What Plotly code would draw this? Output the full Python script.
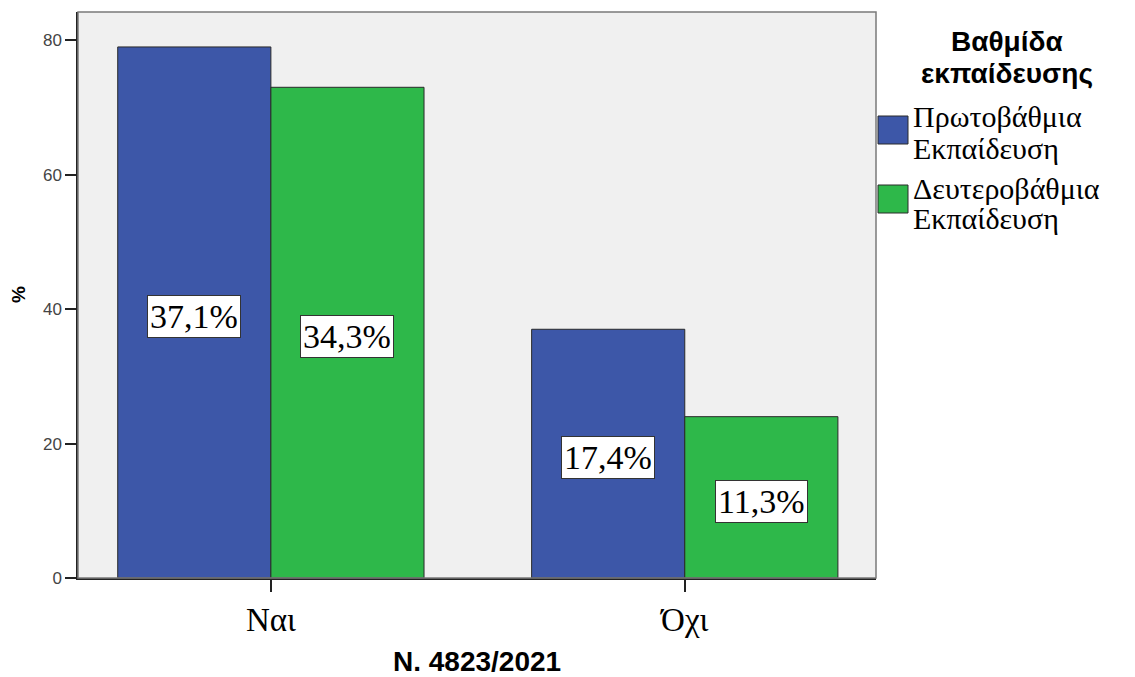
import plotly.graph_objects as go

# Data: counts per group; labels show each count's share of the total
categories = ["Ναι", "Όχι"]
series_names = ["Πρωτοβάθμια Εκπαίδευση", "Δευτεροβάθμια Εκπαίδευση"]
primary = [79, 37]
secondary = [73, 24]
y_ticks = [0, 20, 40, 60, 80]

colors = ["#3d57a8", "#2eb84a"]
values = [primary, secondary]
total = sum(primary) + sum(secondary)

bar_w = 0.37
offsets = [-bar_w / 2, bar_w / 2]
xpos = list(range(len(categories)))

fig = go.Figure()
for name, vals, col, off in zip(series_names, values, colors, offsets):
    fig.add_trace(go.Bar(
        x=[p + off for p in xpos], y=vals, width=bar_w, name=name,
        marker=dict(color=col, line=dict(color="#2a2a2a", width=1)),
        showlegend=False, hoverinfo="skip",
    ))

# Percentage labels in white boxes at mid-height of each bar
annotations = []
for vals, off in zip(values, offsets):
    for p, v in zip(xpos, vals):
        pct = f"{v / total * 100:.1f}%".replace(".", ",")
        annotations.append(dict(
            x=p + off, y=v / 2, xref="x", yref="y", text=pct, showarrow=False,
            yshift=-4, font=dict(family="Liberation Serif", size=34, color="black"),
            bgcolor="white", bordercolor="#333333", borderwidth=1, borderpad=2,
        ))

# Positions outside the plot are given in pixels and converted to paper units
W, H = 1135, 677
L, R, T, B = 78, 259, 12, 99
pw, ph = W - L - R, H - T - B


def px(x):
    return (x - L) / pw


def py(y):
    return (H - B - y) / ph


# Axis titles
annotations.append(dict(
    x=px(477), y=py(661), xref="paper", yref="paper", showarrow=False,
    text="<b>N. 4823/2021</b>", xanchor="center", yanchor="middle",
    font=dict(family="Liberation Sans", size=28, color="black"),
))
annotations.append(dict(
    x=px(18), y=py(295), xref="paper", yref="paper", showarrow=False,
    text="<b>%</b>", textangle=-90, xanchor="center", yanchor="middle",
    font=dict(family="Liberation Sans", size=19, color="black"),
))

# Legend
for line, cy in zip(["Βαθμίδα", "εκπαίδευσης"], [41, 73]):
    annotations.append(dict(
        x=px(1007), y=py(cy), xref="paper", yref="paper", showarrow=False,
        text=f"<b>{line}</b>", align="center",
        font=dict(family="Liberation Sans", size=28, color="black"),
        xanchor="center", yanchor="middle",
    ))

shapes = []
legend_rows = [((117, 148), 116), ((188, 218), 185)]
for (line_ys, top), name, col in zip(legend_rows, series_names, colors):
    shapes.append(dict(
        type="rect", xref="paper", yref="paper",
        x0=px(878), x1=px(908), y0=py(top), y1=py(top + 28),
        fillcolor=col, line=dict(color="#2a2a2a", width=1),
    ))
    for word, cy in zip(name.split(" "), line_ys):
        annotations.append(dict(
            x=px(911), y=py(cy), xref="paper", yref="paper", showarrow=False,
            text=word, align="left",
            font=dict(family="Liberation Serif", size=30, color="black"),
            xanchor="left", yanchor="middle",
        ))

# Frame around the plotting area
shapes.append(dict(
    type="rect", xref="paper", yref="paper", x0=0, x1=1, y0=0, y1=1,
    line=dict(color="#7a7a7a", width=1.5), fillcolor="rgba(0,0,0,0)", layer="above",
))

fig.update_layout(
    width=W, height=H,
    margin=dict(l=L, r=R, t=T, b=B),
    paper_bgcolor="white", plot_bgcolor="#f0f0f0",
    annotations=annotations, shapes=shapes,
    xaxis=dict(
        range=[-0.466, 1.462], tickvals=xpos, ticktext=categories,
        ticks="outside", ticklen=12, tickwidth=1.5, tickcolor="#222",
        showgrid=False, zeroline=False, showline=True, linecolor="#222", linewidth=1.5,
        tickfont=dict(family="Liberation Serif", size=33, color="black"),
        automargin=False,
    ),
    yaxis=dict(
        range=[0, 84.2], tickvals=y_ticks,
        ticks="outside", ticklen=11, tickwidth=1.5, tickcolor="#222",
        showgrid=False, zeroline=False, showline=True, linecolor="#222", linewidth=1.5,
        tickfont=dict(family="Liberation Sans", size=17, color="#444"),
        automargin=False,
    ),
)

fig.write_html("out.html")
